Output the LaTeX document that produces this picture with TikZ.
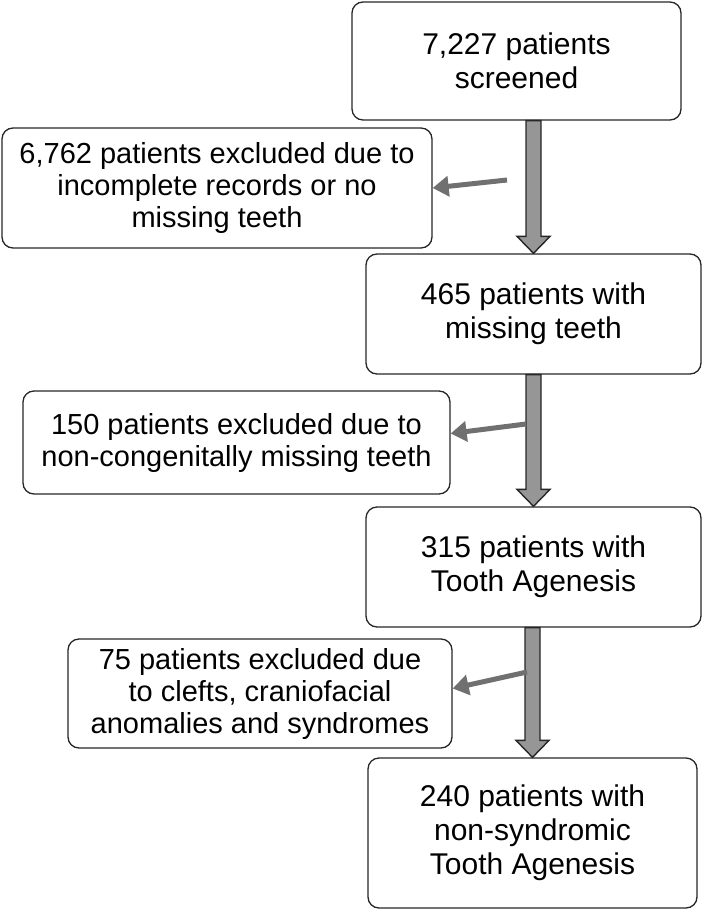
\documentclass[tikz,border=0pt]{standalone}
\usepackage{fontspec}
\setmainfont{Liberation Sans}
\usetikzlibrary{positioning,calc,arrows.meta}
\definecolor{arrowGray}{RGB}{150,150,150}
\definecolor{sideGray}{RGB}{112,112,112}
\tikzset{
    stagebox/.style={
        draw=black!85,
        line width=1.3pt,
        rounded corners=11pt,
        align=center,
        inner sep=0pt,
        font=\fontsize{30}{34}\selectfont
    },
    exclbox/.style={
        stagebox,
        font=\fontsize{29}{32}\selectfont
    },
    blockarrow/.style={
        draw=black!85,
        fill=arrowGray,
        line width=1.4pt,
        line join=miter
    },
    sidearrow/.style={
        draw=sideGray,
        line width=5pt,
        -{Triangle[length=16pt,width=20pt]}
    }
}
% thick block arrow from box #1 down to box #2
\newcommand{\flowarrow}[2]{%
    \draw[blockarrow] ($(#1.south -| #2.north)+(-7.5,0)$) -- ($(#2.north)+(-7.5,-17)$)
        -- ($(#2.north)+(-16.5,-17)$) -- (#2.north) -- ($(#2.north)+(16.5,-17)$)
        -- ($(#2.north)+(7.5,-17)$) -- ($(#1.south -| #2.north)+(7.5,0)$) -- cycle;}

\begin{document}
\begin{tikzpicture}[x=1pt, y=-1pt]
    \useasboundingbox (0,0) rectangle (708,912);

    % main stages
    \node[stagebox, minimum width=329pt, minimum height=118pt] (screened) at (516.5,61) {7,227 patients\\screened};
    \node[stagebox, minimum width=335pt, minimum height=120pt] (missing) at (533.5,314) {465 patients with\\missing teeth};
    \node[stagebox, minimum width=335pt, minimum height=120pt] (agenesis) at (533.5,567) {315 patients with\\Tooth Agenesis};
    \node[stagebox, minimum width=329pt, minimum height=150pt] (nonsyn) at (532.5,833) {240 patients with\\non-syndromic\\Tooth Agenesis};

    % exclusions
    \node[exclbox, minimum width=430pt, minimum height=120pt] (exclA) at (217,188) {6,762 patients excluded due to\\incomplete records or no\\missing teeth};
    \node[exclbox, minimum width=427pt, minimum height=103pt] (exclB) at (236.5,442.5) {150 patients excluded due to\\non-congenitally missing teeth};
    \node[exclbox, minimum width=384pt, minimum height=109pt] (exclC) at (260,693.5) {75 patients excluded due\\to clefts, craniofacial\\anomalies and syndromes};

    % down arrows
    \flowarrow{screened}{missing}
    \flowarrow{missing}{agenesis}
    \flowarrow{agenesis}{nonsyn}

    % side arrows
    \coordinate (splitA) at (507,180);
    \coordinate (splitB) at (526,424);
    \coordinate (splitC) at (527,672);
    \draw[sidearrow] (splitA) -- (exclA.east);
    \draw[sidearrow] (splitB) -- ($(exclB.east)+(0,-9)$);
    \draw[sidearrow] (splitC) -- ($(exclC.east)+(0,-5)$);
\end{tikzpicture}
\end{document}
